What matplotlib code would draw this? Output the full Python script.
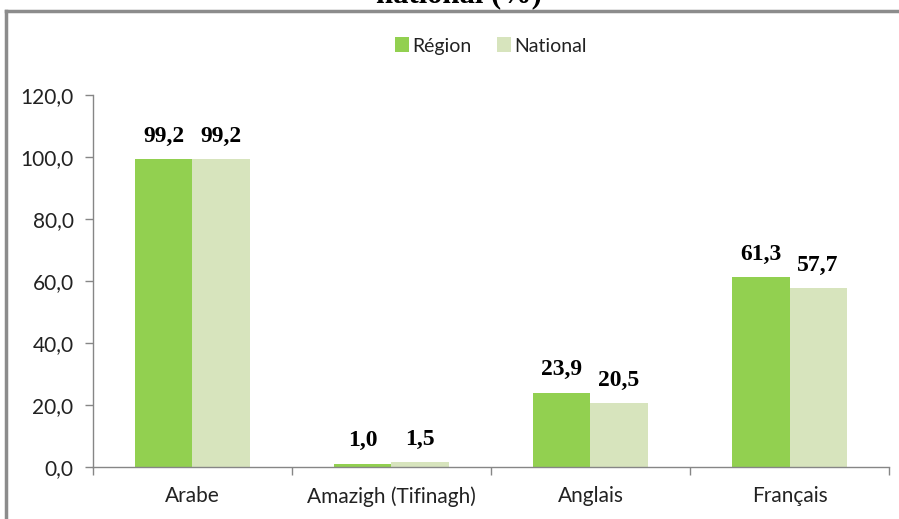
import matplotlib.pyplot as plt
import numpy as np

# data
langues = ['Arabe', 'Amazigh (Tifinagh)', 'Anglais', 'Français']
region = [99.2, 1.0, 23.9, 61.3]
national = [99.2, 1.5, 20.5, 57.7]
yticks = [0, 20, 40, 60, 80, 100, 120]

green = '#92D050'
light = '#D7E4BD'
gray = '#868686'

fig = plt.figure(figsize=(8.99, 5.19), dpi=100)
ax = fig.add_axes([0.1034, 0.1002, 0.8855, 0.7168])

x = np.arange(len(langues))
w = 0.287
b1 = ax.bar(x - w / 2, region, width=w, color=green, label='Région')
b2 = ax.bar(x + w / 2, national, width=w, color=light, label='National')

# value labels
for bars, vals in [(b1, region), (b2, national)]:
    for r, v in zip(bars, vals):
        ax.annotate(f'{v:.1f}'.replace('.', ','),
                    (r.get_x() + r.get_width() / 2, r.get_height()),
                    xytext=(0, 9), textcoords='offset points',
                    ha='center', va='bottom', fontsize=17, fontweight='bold',
                    family='Liberation Serif', color='black')

ax.set_xlim(-0.5, len(langues) - 0.5)
ax.set_ylim(0, 120)
ax.set_yticks(yticks)
ax.set_yticklabels([f'{t:.1f}'.replace('.', ',') for t in yticks],
                   family='Lato', fontsize=15, color='#222222')
ax.set_xticks(x)
ax.set_xticklabels(langues, family='Lato', fontsize=15, color='#222222')
ax.set_xticks(np.arange(len(langues) + 1) - 0.5, minor=True)
ax.tick_params(axis='x', which='major', length=0, pad=14)
ax.tick_params(axis='x', which='minor', length=6, color=gray, width=1)
ax.tick_params(axis='y', length=6, color=gray, width=1, pad=8)
for s in ['top', 'right']:
    ax.spines[s].set_visible(False)
for s in ['left', 'bottom']:
    ax.spines[s].set_color(gray)
    ax.spines[s].set_linewidth(1)

ax.legend(loc='center', bbox_to_anchor=(0.5, 1 + (95 - 46) / 372), ncol=2,
          frameon=False, prop={'family': 'Lato', 'size': 14},
          handlelength=0.7, handleheight=0.8, handletextpad=0.2,
          columnspacing=1.3, labelcolor='#222222')

# outer frame (only top and left visible)
fig.add_artist(plt.Line2D([5.5 / 899, 1], [1 - 11 / 519] * 2, color='#8c8c8c', lw=2.5))
fig.add_artist(plt.Line2D([6 / 899] * 2, [0, 1 - 11 / 519], color='#8c8c8c', lw=2.5))

# title, cut off at the top as in the source
fig.text(459 / 899, 1 - 2 / 519, 'national (%)', ha='center', va='baseline',
         fontsize=22, fontweight='bold', family='Liberation Serif')

fig.savefig('out.png', dpi=100)
